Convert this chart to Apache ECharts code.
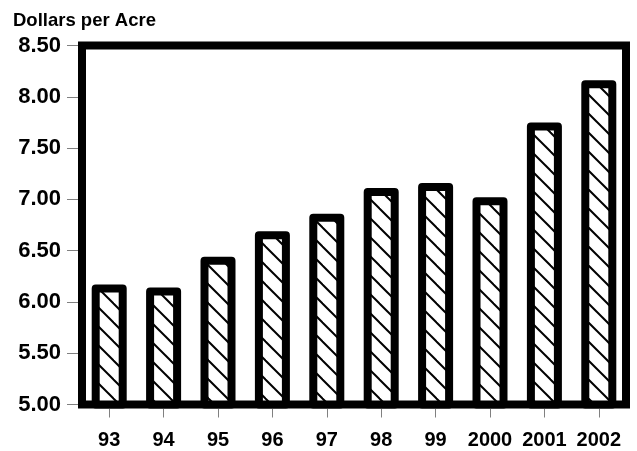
<!DOCTYPE html>
<html>
<head>
<meta charset="utf-8">
<script src="https://cdn.jsdelivr.net/npm/echarts@6/dist/echarts.min.js"></script>
<style>
html,body{margin:0;padding:0;background:#fff;}
#c{width:637px;height:451px;}
</style>
</head>
<body>
<div id="c"></div>
<script>
var titleText = 'Dollars per Acre';
var categories = ['93','94','95','96','97','98','99','2000','2001','2002'];
var values = [6.17, 6.14, 6.44, 6.69, 6.86, 7.11, 7.16, 7.02, 7.75, 8.16];
var yMin = 5.0, yMax = 8.5, yStep = 0.5;

function makeHatch(s) {
  var cv = document.createElement('canvas');
  cv.width = s; cv.height = s;
  var ctx = cv.getContext('2d');
  ctx.fillStyle = '#fff';
  ctx.fillRect(0, 0, s, s);
  ctx.strokeStyle = '#000';
  ctx.lineWidth = 2;
  for (var k = -1; k <= 1; k++) {
    ctx.beginPath();
    ctx.moveTo(-2, -2 + k * s);
    ctx.lineTo(s + 2, s + 2 + k * s);
    ctx.stroke();
  }
  return cv;
}

var FONT = '"Liberation Sans", Arial, sans-serif';
var chart = echarts.init(document.getElementById('c'), null, {renderer: 'canvas'});
chart.setOption({
  animation: false,
  backgroundColor: '#fff',
  title: {
    text: titleText, left: 13, top: 11, padding: 0,
    textStyle: {fontFamily: FONT, fontSize: 18.5, fontWeight: 'bold', color: '#000'}
  },
  grid: {
    left: 82, right: 11, top: 45.5, bottom: 46.5,
    show: true, borderWidth: 8, borderColor: '#000', backgroundColor: 'transparent'
  },
  xAxis: {
    type: 'category', data: categories, offset: 4,
    axisLine: {show: false},
    axisTick: {show: true, alignWithLabel: true, length: 9, lineStyle: {color: '#808080', width: 1}},
    axisLabel: {fontFamily: FONT, fontSize: 20, fontWeight: 'bold', color: '#000', margin: 22, interval: 0}
  },
  yAxis: {
    type: 'value', min: yMin, max: yMax, interval: yStep, offset: 4,
    axisLine: {show: false},
    splitLine: {show: false},
    axisTick: {show: true, length: 11, lineStyle: {color: '#808080', width: 1}},
    axisLabel: {fontFamily: FONT, fontSize: 22, fontWeight: 'bold', color: '#000', margin: 17,
      padding: [5, 0, 0, 0],
      formatter: function (v) { return v.toFixed(2); }}
  },
  series: [{
    type: 'bar', data: values, barWidth: 35,
    itemStyle: {
      color: {image: makeHatch(19), repeat: 'repeat'},
      borderColor: '#000', borderWidth: 8, borderJoin: 'round'
    }
  }]
});
</script>
</body>
</html>
